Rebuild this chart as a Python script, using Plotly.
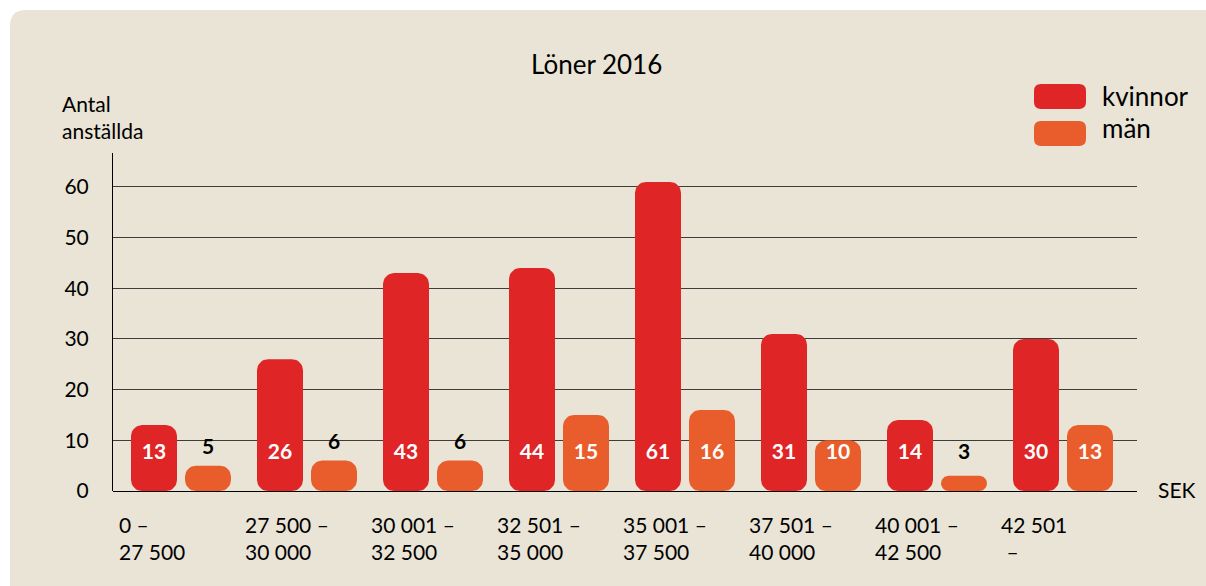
import math
import plotly.graph_objects as go

categories = ["0 –<br>27 500", "27 500 –<br>30 000", "30 001 –<br>32 500", "32 501 –<br>35 000",
              "35 001 –<br>37 500", "37 501 –<br>40 000", "40 001 –<br>42 500", "42 501<br> –"]
kvinnor = [13, 26, 43, 44, 61, 31, 14, 30]
man = [5, 6, 6, 15, 16, 10, 3, 13]
y_ticks = [0, 10, 20, 30, 40, 50, 60]

RED = "#e02527"
ORANGE = "#e85d2b"
BEIGE = "#e9e4d5"
FONT = "Lato"

WIDTH, HEIGHT = 1206, 586
PL, PR, PT, PB = 113, 1137, 153, 491  # plot area in page pixels
L, R, T, B = PL, WIDTH - PR, PT, HEIGHT - PB
PW, PH = PR - PL, PB - PT

def px(x):
    return (x - PL) / PW

def py(y):
    return (PB - y) / PH

# axis scales
K = 126.0                       # px per category on x
X0 = -68.0 / K
X_RANGE = [X0, X0 + PW / K]
Y_RANGE = [0, 66.7]
KY = PH / (Y_RANGE[1] - Y_RANGE[0])  # px per unit on y

xs = list(range(len(categories)))
fig = go.Figure()

BAR_W = 46.0 / K
RADIUS_PX = 11
RED_OFF, ORANGE_OFF = -50.0 / K, 4.0 / K

def rounded_bar_outline(xl, w, v):
    """Outline of a bar from 0 to v with all four corners rounded (in data units)."""
    r_px = min(RADIUS_PX, v * KY / 2, w * K / 2)
    rx, ry = r_px / K, r_px / KY
    xr = xl + w
    pts = []
    corners = [  # centre x, centre y, start angle
        (xr - rx, v - ry, 0), (xl + rx, v - ry, 90),
        (xl + rx, ry, 180), (xr - rx, ry, 270)]
    for cx, cy, a0 in corners:
        for k in range(9):
            a = math.radians(a0 + k * 90 / 8)
            pts.append((cx + rx * math.cos(a), cy + ry * math.sin(a)))
    pts.append(pts[0])
    return pts

def add_series(values, color, offset, name):
    X, Y = [], []
    for x, v in zip(xs, values):
        for p in rounded_bar_outline(x + offset, BAR_W, v):
            X.append(p[0]); Y.append(p[1])
        X.append(None); Y.append(None)
    fig.add_trace(go.Scatter(x=X, y=Y, mode="lines", fill="toself", fillcolor=color,
                             line=dict(width=0, color=color), name=name,
                             showlegend=False, hoverinfo="skip"))

add_series(kvinnor, RED, RED_OFF, "kvinnor")
add_series(man, ORANGE, ORANGE_OFF, "män")

def label_layer(values, shift):
    ys = [7.3 if v >= 8 else max(7.3, v + 3.3) for v in values]
    cols = ["white" if v >= 8 else "black" for v in values]
    fig.add_trace(go.Scatter(x=[x + shift for x in xs], y=ys, mode="text",
                             text=[str(v) for v in values],
                             textfont=dict(family=FONT, size=21, color=cols, weight="bold"),
                             showlegend=False, hoverinfo="skip"))

label_layer(kvinnor, RED_OFF + BAR_W / 2)
label_layer(man, ORANGE_OFF + BAR_W / 2)

shapes = []
# panel background with rounded top-left corner
x0, y0, x1, y1, r = px(10), py(10), px(1230), py(610), 16
shapes.append(dict(type="path", xref="paper", yref="paper", layer="below",
                   path=f"M {x0},{y1} L {x0},{py(10 + r)} Q {x0},{y0} {px(10 + r)},{y0} "
                        f"L {x1},{y0} L {x1},{y1} Z",
                   fillcolor=BEIGE, line=dict(width=0)))

def rrect(xa, ya, xb, yb, rr, color):
    return dict(type="path", xref="paper", yref="paper", layer="above",
                path=(f"M {px(xa + rr)},{py(ya)} L {px(xb - rr)},{py(ya)} Q {px(xb)},{py(ya)} {px(xb)},{py(ya + rr)} "
                      f"L {px(xb)},{py(yb - rr)} Q {px(xb)},{py(yb)} {px(xb - rr)},{py(yb)} "
                      f"L {px(xa + rr)},{py(yb)} Q {px(xa)},{py(yb)} {px(xa)},{py(yb - rr)} "
                      f"L {px(xa)},{py(ya + rr)} Q {px(xa)},{py(ya)} {px(xa + rr)},{py(ya)} Z"),
                fillcolor=color, line=dict(width=0))

shapes.append(rrect(1034, 84, 1086, 109, 7, RED))
shapes.append(rrect(1034, 121, 1086, 146, 7, ORANGE))

annotations = [
    dict(text="Löner 2016", x=px(596), y=py(64), xref="paper", yref="paper", showarrow=False,
         xanchor="center", yanchor="middle", font=dict(family=FONT, size=26, color="black")),
    dict(text="Antal<br>anställda", x=px(60), y=py(117), xref="paper", yref="paper", showarrow=False,
         xanchor="left", yanchor="middle", align="left", font=dict(family=FONT, size=21, color="black")),
    dict(text="SEK", x=px(1156), y=py(489), xref="paper", yref="paper", showarrow=False,
         xanchor="left", yanchor="middle", font=dict(family=FONT, size=21, color="black")),
    dict(text="kvinnor", x=px(1100), y=py(96), xref="paper", yref="paper", showarrow=False,
         xanchor="left", yanchor="middle", font=dict(family=FONT, size=26, color="black")),
    dict(text="män", x=px(1100), y=py(128), xref="paper", yref="paper", showarrow=False,
         xanchor="left", yanchor="middle", font=dict(family=FONT, size=26, color="black")),
]
for i, c in enumerate(categories):
    annotations.append(dict(text=c, x=i - 0.51, y=py(538), xref="x", yref="paper", showarrow=False,
                            xanchor="left", yanchor="middle", align="left",
                            font=dict(family=FONT, size=21, color="black")))

fig.update_layout(
    width=WIDTH, height=HEIGHT,
    margin=dict(l=L, r=R, t=T, b=B, pad=0),
    paper_bgcolor="white", plot_bgcolor="rgba(0,0,0,0)",
    showlegend=False,
    shapes=shapes, annotations=annotations,
    font=dict(family=FONT, color="black"),
    xaxis=dict(range=X_RANGE, showticklabels=False, showgrid=False, zeroline=False,
               showline=False, fixedrange=True),
    yaxis=dict(range=Y_RANGE, tickvals=y_ticks, showgrid=True, gridcolor="#3d3d3a", gridwidth=1,
               zeroline=True, zerolinecolor="black", zerolinewidth=1,
               showline=True, linecolor="black", linewidth=1, ticks="",
               ticklabelstandoff=19, tickfont=dict(family=FONT, size=21, color="black"),
               fixedrange=True),
)

fig.write_html("out.html", config={"displayModeBar": False},
               post_script="document.body.style.margin='0';document.body.style.overflow='hidden';")
